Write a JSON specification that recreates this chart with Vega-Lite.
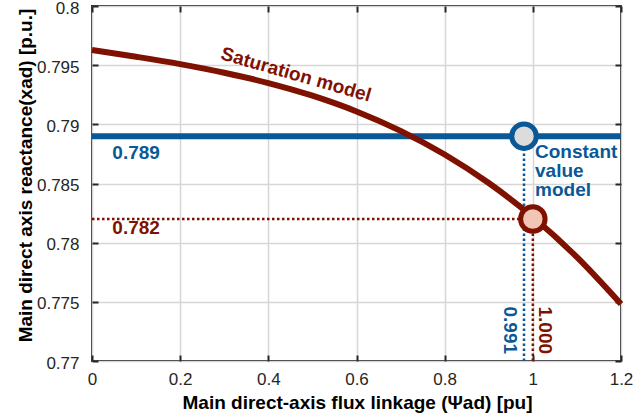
{
  "$schema": "https://vega.github.io/schema/vega-lite/v6.json",
  "width": 529,
  "height": 355,
  "autosize": "none",
  "padding": {"left": 92, "top": 6, "right": 21, "bottom": 58},
  "background": "white",
  "config": {
    "font": "Liberation Sans",
    "view": {"stroke": "#262626", "strokeWidth": 2},
    "axis": {
      "labelFont": "Liberation Sans",
      "labelFontSize": 17,
      "labelColor": "#262626",
      "labelFlush": false,
      "titleFont": "Liberation Sans",
      "titleFontSize": 19,
      "titleFontWeight": "bold",
      "titleColor": "#000000",
      "gridColor": "#d6d6d6",
      "gridWidth": 1.5,
      "tickColor": "#262626",
      "tickWidth": 2,
      "tickSize": -6,
      "domain": false
    }
  },
  "datasets": {
    "curve": [
      {"x": 0.0, "y": 0.79628},
      {"x": 0.1, "y": 0.79571},
      {"x": 0.2, "y": 0.79509},
      {"x": 0.3, "y": 0.79436},
      {"x": 0.4, "y": 0.79349},
      {"x": 0.5, "y": 0.79242},
      {"x": 0.6, "y": 0.79109},
      {"x": 0.7, "y": 0.78945},
      {"x": 0.8, "y": 0.78745},
      {"x": 0.9, "y": 0.78504},
      {"x": 1.0, "y": 0.78217},
      {"x": 1.1, "y": 0.77878},
      {"x": 1.2, "y": 0.77482}
    ],
    "constant": [{"y": 0.789}],
    "dotted": [
      {"series": "sat", "x": 0, "x2": 1.0, "y": 0.782, "y2": 0.782},
      {"series": "sat", "x": 1.0, "x2": 1.0, "y": 0.77, "y2": 0.782},
      {"series": "const", "x": 0.98, "x2": 0.98, "y": 0.77, "y2": 0.789}
    ],
    "points": [
      {"series": "const", "x": 0.98, "y": 0.789},
      {"series": "sat", "x": 1.0, "y": 0.782}
    ],
    "labels": [
      {"group": "const", "x": 0.1, "y": 0.7876, "text": "0.789"},
      {"group": "sat", "x": 0.1, "y": 0.7812, "text": "0.782"},
      {"group": "satname", "x": 0.463, "y": 0.7942, "text": "Saturation model"},
      {"group": "constname", "x": 1.005, "y": 0.78715, "text": "Constant\nvalue\nmodel"},
      {"group": "constv", "x": 0.948, "y": 0.7726, "text": "0.991"},
      {"group": "satv", "x": 1.028, "y": 0.7726, "text": "1.000"}
    ]
  },
  "layer": [
    {
      "layer": [
        {
          "data": {"name": "constant"},
          "mark": {"type": "rule", "color": "#0a5896", "strokeWidth": 6},
          "encoding": {
            "y": {
              "field": "y", "type": "quantitative",
              "scale": {"domain": [0.77, 0.8], "nice": false, "zero": false},
              "axis": {
                "orient": "left",
                "values": [0.77, 0.775, 0.78, 0.785, 0.79, 0.795, 0.8],
                "format": "~g",
                "grid": true,
                "labelPadding": 19,
                "labelOffset": 2,
                "title": "Main direct axis reactance(xad) [p.u.]",
                "titleAngle": -90,
                "titleAlign": "center",
                "titleBaseline": "middle",
                "titleX": -67,
                "titleY": 169
              }
            }
          }
        },
        {
          "data": {"name": "curve"},
          "mark": {"type": "line", "color": "#7f1100", "strokeWidth": 6, "interpolate": "monotone"},
          "encoding": {
            "x": {
              "field": "x", "type": "quantitative",
              "scale": {"domain": [0, 1.2], "nice": false, "zero": false},
              "axis": {
                "orient": "bottom",
                "values": [0, 0.2, 0.4, 0.6, 0.8, 1, 1.2],
                "format": "~g",
                "grid": true,
                "labelPadding": 16,
                "title": "Main direct-axis flux linkage (Ψad) [pu]",
                "titleAlign": "center",
                "titleBaseline": "middle",
                "titleX": 265,
                "titleY": 41
              }
            },
            "y": {"field": "y", "type": "quantitative", "scale": {"domain": [0.77, 0.8], "nice": false, "zero": false}}
          }
        },
        {
          "data": {"name": "dotted"},
          "transform": [{"filter": "datum.series == 'sat'"}],
          "mark": {"type": "rule", "color": "#7f1100", "strokeWidth": 2.5, "strokeDash": [2.5, 2.5]},
          "encoding": {
            "x": {"field": "x", "type": "quantitative", "scale": {"domain": [0, 1.2], "nice": false, "zero": false}},
            "x2": {"field": "x2"},
            "y": {"field": "y", "type": "quantitative", "scale": {"domain": [0.77, 0.8], "nice": false, "zero": false}},
            "y2": {"field": "y2"}
          }
        },
        {
          "data": {"name": "dotted"},
          "transform": [{"filter": "datum.series == 'const'"}],
          "mark": {"type": "rule", "color": "#0a5896", "strokeWidth": 2.5, "strokeDash": [2.5, 2.5]},
          "encoding": {
            "x": {"field": "x", "type": "quantitative", "scale": {"domain": [0, 1.2], "nice": false, "zero": false}},
            "x2": {"field": "x2"},
            "y": {"field": "y", "type": "quantitative", "scale": {"domain": [0.77, 0.8], "nice": false, "zero": false}},
            "y2": {"field": "y2"}
          }
        },
        {
          "data": {"name": "points"},
          "transform": [{"filter": "datum.series == 'const'"}],
          "mark": {"type": "point", "shape": "circle", "filled": false, "fill": "#dcdcdc", "fillOpacity": 1, "stroke": "#0a5896", "strokeWidth": 5, "size": 600, "opacity": 1},
          "encoding": {
            "x": {"field": "x", "type": "quantitative", "scale": {"domain": [0, 1.2], "nice": false, "zero": false}},
            "y": {"field": "y", "type": "quantitative", "scale": {"domain": [0.77, 0.8], "nice": false, "zero": false}}
          }
        },
        {
          "data": {"name": "points"},
          "transform": [{"filter": "datum.series == 'sat'"}],
          "mark": {"type": "point", "shape": "circle", "filled": false, "fill": "#f2c6b4", "fillOpacity": 1, "stroke": "#7f1100", "strokeWidth": 5, "size": 600, "opacity": 1},
          "encoding": {
            "x": {"field": "x", "type": "quantitative", "scale": {"domain": [0, 1.2], "nice": false, "zero": false}},
            "y": {"field": "y", "type": "quantitative", "scale": {"domain": [0.77, 0.8], "nice": false, "zero": false}}
          }
        },
        {
          "data": {"name": "labels"},
          "transform": [{"filter": "datum.group == 'const'"}],
          "mark": {"type": "text", "color": "#0a5896", "fontSize": 19, "fontWeight": "bold", "align": "center", "baseline": "middle"},
          "encoding": {
            "x": {"field": "x", "type": "quantitative", "scale": {"domain": [0, 1.2], "nice": false, "zero": false}},
            "y": {"field": "y", "type": "quantitative", "scale": {"domain": [0.77, 0.8], "nice": false, "zero": false}},
            "text": {"field": "text"}
          }
        },
        {
          "data": {"name": "labels"},
          "transform": [{"filter": "datum.group == 'sat'"}],
          "mark": {"type": "text", "color": "#7f1100", "fontSize": 19, "fontWeight": "bold", "align": "center", "baseline": "middle"},
          "encoding": {
            "x": {"field": "x", "type": "quantitative", "scale": {"domain": [0, 1.2], "nice": false, "zero": false}},
            "y": {"field": "y", "type": "quantitative", "scale": {"domain": [0.77, 0.8], "nice": false, "zero": false}},
            "text": {"field": "text"}
          }
        },
        {
          "data": {"name": "labels"},
          "transform": [{"filter": "datum.group == 'satname'"}],
          "mark": {"type": "text", "color": "#7f1100", "fontSize": 19, "fontWeight": "bold", "align": "center", "baseline": "middle", "angle": 16},
          "encoding": {
            "x": {"field": "x", "type": "quantitative", "scale": {"domain": [0, 1.2], "nice": false, "zero": false}},
            "y": {"field": "y", "type": "quantitative", "scale": {"domain": [0.77, 0.8], "nice": false, "zero": false}},
            "text": {"field": "text"}
          }
        },
        {
          "data": {"name": "labels"},
          "transform": [{"filter": "datum.group == 'constname'"}],
          "mark": {"type": "text", "color": "#0a5896", "fontSize": 19, "fontWeight": "bold", "align": "left", "baseline": "alphabetic", "lineBreak": "\n", "lineHeight": 19},
          "encoding": {
            "x": {"field": "x", "type": "quantitative", "scale": {"domain": [0, 1.2], "nice": false, "zero": false}},
            "y": {"field": "y", "type": "quantitative", "scale": {"domain": [0.77, 0.8], "nice": false, "zero": false}},
            "text": {"field": "text"}
          }
        },
        {
          "data": {"name": "labels"},
          "transform": [{"filter": "datum.group == 'constv'"}],
          "mark": {"type": "text", "color": "#0a5896", "fontSize": 19, "fontWeight": "bold", "align": "center", "baseline": "middle", "angle": 90},
          "encoding": {
            "x": {"field": "x", "type": "quantitative", "scale": {"domain": [0, 1.2], "nice": false, "zero": false}},
            "y": {"field": "y", "type": "quantitative", "scale": {"domain": [0.77, 0.8], "nice": false, "zero": false}},
            "text": {"field": "text"}
          }
        },
        {
          "data": {"name": "labels"},
          "transform": [{"filter": "datum.group == 'satv'"}],
          "mark": {"type": "text", "color": "#7f1100", "fontSize": 19, "fontWeight": "bold", "align": "center", "baseline": "middle", "angle": 90},
          "encoding": {
            "x": {"field": "x", "type": "quantitative", "scale": {"domain": [0, 1.2], "nice": false, "zero": false}},
            "y": {"field": "y", "type": "quantitative", "scale": {"domain": [0.77, 0.8], "nice": false, "zero": false}},
            "text": {"field": "text"}
          }
        }
      ]
    },
    {
      "data": {"name": "curve"},
      "mark": {"type": "point", "opacity": 0},
      "encoding": {
        "x": {
          "field": "x", "type": "quantitative",
          "scale": {"domain": [0, 1.2], "nice": false, "zero": false},
          "axis": {"orient": "top", "values": [0, 0.2, 0.4, 0.6, 0.8, 1, 1.2], "labels": false, "grid": false, "title": null}
        },
        "y": {
          "field": "y", "type": "quantitative",
          "scale": {"domain": [0.77, 0.8], "nice": false, "zero": false},
          "axis": {"orient": "right", "values": [0.77, 0.775, 0.78, 0.785, 0.79, 0.795, 0.8], "labels": false, "grid": false, "title": null}
        }
      }
    }
  ],
  "resolve": {"axis": {"x": "independent", "y": "independent"}}
}
